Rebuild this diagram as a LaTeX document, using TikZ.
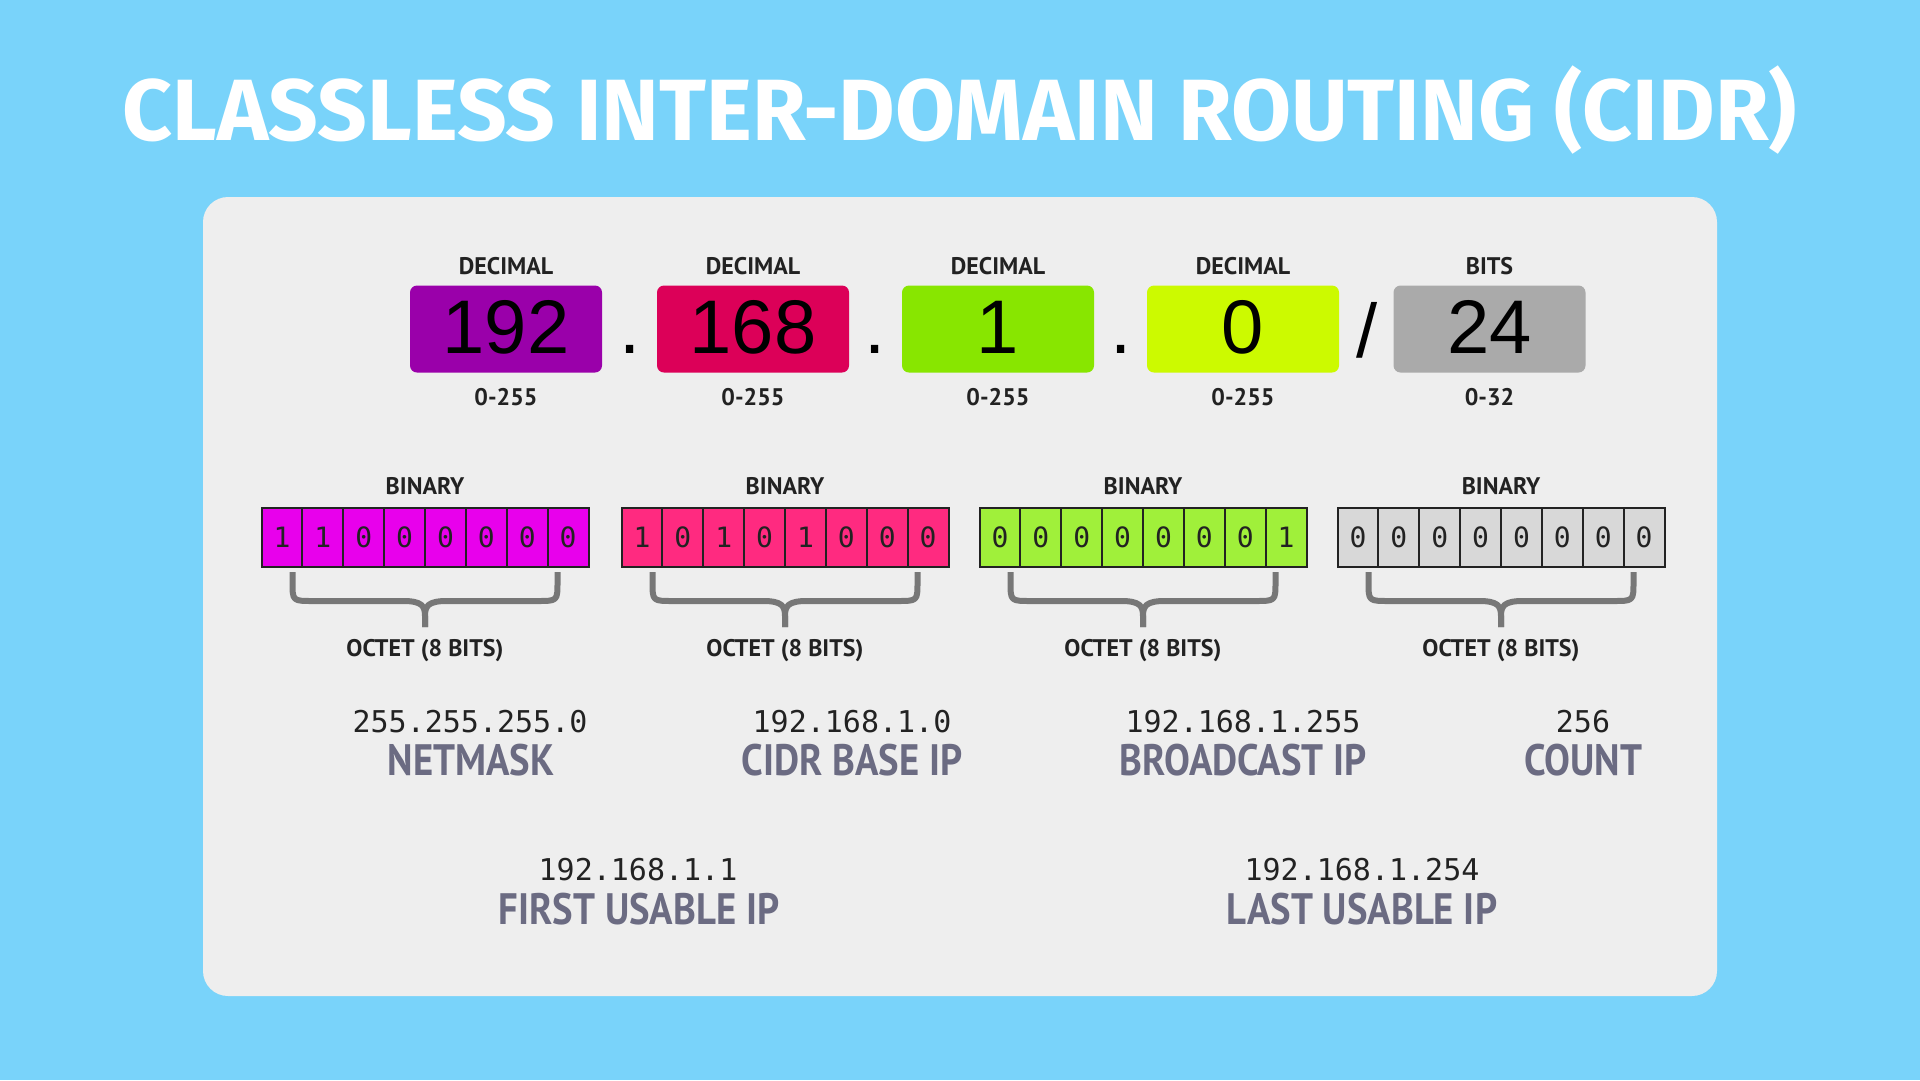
\documentclass[tikz,border=0pt]{standalone}
\usepackage{fontspec}
\newfontfamily\titlefont{Fira Sans}
\newfontfamily\lblfont{PT Sans}
\newfontfamily\numfont{Liberation Sans}
\newfontfamily\codefont{DejaVu Sans Mono}
\definecolor{bgblue}{HTML}{79D3FA}
\definecolor{panelgray}{HTML}{EEEEEE}
\definecolor{decA}{HTML}{9A00AA}
\definecolor{decB}{HTML}{DC0058}
\definecolor{decC}{HTML}{88E600}
\definecolor{decD}{HTML}{CCFA00}
\definecolor{decE}{HTML}{AAAAAA}
\definecolor{bitA}{HTML}{E800EC}
\definecolor{bitB}{HTML}{FF2A80}
\definecolor{bitC}{HTML}{A0F03A}
\definecolor{bitD}{HTML}{D8D8D8}
\definecolor{inkdark}{HTML}{222222}
\definecolor{lblgray}{HTML}{6B6B82}
\definecolor{bracegray}{HTML}{777777}
\tikzset{
  decbox/.style={rectangle, rounded corners=7pt, minimum width=192pt, minimum height=87pt, inner sep=0pt},
  bignum/.style={font=\numfont\fontsize{76}{80}\selectfont, text=black, inner sep=0pt, anchor=base},
  toplbl/.style={font=\lblfont\bfseries\fontsize{24}{26}\selectfont, text=inkdark, inner sep=0pt, anchor=base},
  bitcell/.style={rectangle, draw=inkdark, line width=2pt, minimum width=40.875pt, minimum height=59pt, inner sep=0pt, font=\codefont\fontsize{28}{30}\selectfont, text=inkdark},
  codetxt/.style={font=\codefont\fontsize{30}{32}\selectfont, text=inkdark, inner sep=0pt, anchor=base},
  biglbl/.style={font=\lblfont\bfseries\fontsize{44}{46}\selectfont, text=lblgray, inner sep=0pt, anchor=base, xscale=0.88},
  bracestyle/.style={draw=bracegray, line width=6pt, line cap=butt, line join=round},
  octbrace/.pic={
    \draw[bracestyle] (-132.5,0) -- (-132.5,10) .. controls (-132.5,29) .. (-112,29) -- (-22,29) .. controls (-3,29) and (0,34) .. (0,44) -- (0,55);
    \draw[bracestyle] (132.5,0) -- (132.5,10) .. controls (132.5,29) .. (112,29) -- (22,29) .. controls (3,29) and (0,34) .. (0,44) -- (0,55);
  }
}
\begin{document}
\begin{tikzpicture}[x=1pt,y=-1pt]
\useasboundingbox (0,0) rectangle (1920,1080);
\fill[bgblue] (0,0) rectangle (1920,1080);
\fill[panelgray, rounded corners=25pt] (203,197) rectangle (1717,996);

% title
\node[inner sep=0pt, text=white] (title) at (960,110)
  {\resizebox{1674pt}{!}{\titlefont\bfseries CLASSLESS INTER-DOMAIN ROUTING (CIDR)}};

% decimal row
\foreach \n/\cx/\col/\val/\lab/\rng in {1/506/decA/192/DECIMAL/0-255, 2/753/decB/168/DECIMAL/0-255, 3/998/decC/1/DECIMAL/0-255, 4/1243/decD/0/DECIMAL/0-255, 5/1489.5/decE/24/BITS/0-32}{
  \node[decbox, fill=\col] (d\n) at (\cx,329) {};
  \node[bignum] (n\n) at (\cx,353) {\val};
  \node[toplbl] (dl\n) at (\cx,274.5) {\lab};
  \node[toplbl] (rl\n) at (\cx,405.5) {\rng};
}
\node[bignum] (dot1) at (630,353) {.};
\node[bignum] (dot2) at (875,353) {.};
\node[bignum] (dot3) at (1121,353) {.};
\node[bignum] (slash) at (1367,357) {/};

% binary rows
\foreach \r/\cx/\col/\bits in {1/425/bitA/{1,1,0,0,0,0,0,0}, 2/785/bitB/{1,0,1,0,1,0,0,0}, 3/1143/bitC/{0,0,0,0,0,0,0,1}, 4/1501/bitD/{0,0,0,0,0,0,0,0}}{
  \node[toplbl] (bl\r) at (\cx,494.5) {BINARY};
  \foreach \b [count=\i] in \bits {
    \node[bitcell, fill=\col] (b\r-\i) at ({\cx-163.5+(\i-0.5)*40.875},537.2) {\b};
  }
  \pic (br\r) at (\cx,572) {octbrace};
  \node[toplbl] (ol\r) at (\cx,656.5) {OCTET (8 BITS)};
}

% results
\node[codetxt] (v1) at (470,732) {255.255.255.0};
\node[biglbl] (l1) at (471,775) {NETMASK};
\node[codetxt] (v2) at (852,732) {192.168.1.0};
\node[biglbl] (l2) at (852,775) {CIDR BASE IP};
\node[codetxt] (v3) at (1243,732) {192.168.1.255};
\node[biglbl] (l3) at (1243,775) {BROADCAST IP};
\node[codetxt] (v4) at (1583,732) {256};
\node[biglbl] (l4) at (1583,775) {COUNT};
\node[codetxt] (v5) at (638,880) {192.168.1.1};
\node[biglbl] (l5) at (639,924) {FIRST USABLE IP};
\node[codetxt] (v6) at (1362,880) {192.168.1.254};
\node[biglbl] (l6) at (1362,924) {LAST USABLE IP};
\end{tikzpicture}
\end{document}
